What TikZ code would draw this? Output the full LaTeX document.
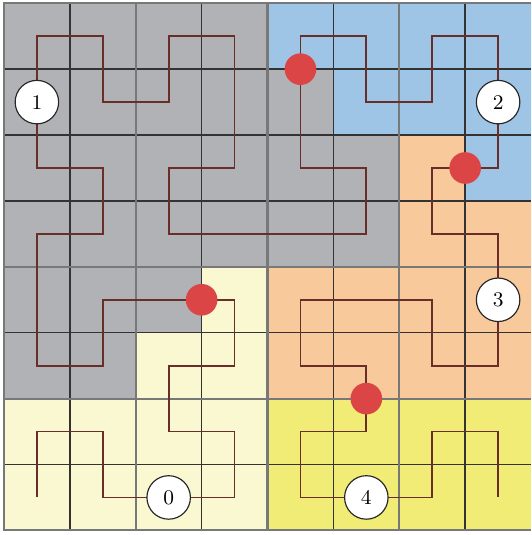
\documentclass[tikz,border=0pt]{standalone}
\usepackage{tikz}
\usetikzlibrary{positioning,calc}
\definecolor{cellgray}{HTML}{B1B2B5}
\definecolor{paleyellow}{HTML}{FAF8D0}
\definecolor{skyblue}{HTML}{9EC4E6}
\definecolor{peach}{HTML}{F7C99B}
\definecolor{lemon}{HTML}{F0EC76}
\definecolor{curvered}{HTML}{6A2E2A}
\definecolor{dotred}{HTML}{DC4545}
\definecolor{gridgray}{HTML}{787878}
\tikzset{
  thinline/.style={draw=black!80,line width=0.6pt},
  halfline/.style={draw=gridgray,line width=0.9pt},
  curve/.style={draw=curvered,line width=0.75pt},
  cut/.style={circle,fill=dotred,inner sep=0pt,minimum size=0.48cm},
  label/.style={circle,draw=black!85,fill=white,line width=0.5pt,inner sep=0pt,minimum size=0.66cm,font=\fontsize{9}{10}\selectfont}
}

\begin{document}
\begin{tikzpicture}
  \useasboundingbox (-0.06,-0.07) rectangle (8,8.05);
  \fill[paleyellow] (0,0) -- (4,0) -- (4,4) -- (3,4) -- (3,3) -- (2,3) -- (2,2) -- (0,2) -- cycle;
  \fill[cellgray] (0,2) -- (2,2) -- (2,3) -- (3,3) -- (3,4) -- (6,4) -- (6,6) -- (5,6) -- (5,7) -- (4,7) -- (4,8) -- (0,8) -- cycle;
  \fill[skyblue] (4,8) -- (8,8) -- (8,5) -- (7,5) -- (7,6) -- (5,6) -- (5,7) -- (4,7) -- cycle;
  \fill[peach] (4,2) -- (8,2) -- (8,5) -- (7,5) -- (7,6) -- (6,6) -- (6,4) -- (4,4) -- cycle;
  \fill[lemon] (4,0) rectangle (8,2);
  \foreach \k in {1,3,5,6,7} {
    \draw[thinline] (0,\k) -- (8,\k);
  }
  \foreach \k in {1,3,5,7} {
    \draw[thinline] (\k,0) -- (\k,8);
  }
  \foreach \k in {2,4} {
    \draw[halfline] (0,\k) -- (8,\k);
  }
  \foreach \k in {2,4,6} {
    \draw[halfline] (\k,0) -- (\k,8);
  }
  \draw[halfline] (8,0) -- (0,0) -- (0,8) -- (8,8);
  \draw[curve] (0.5,0.5) -- (0.5,1.5) -- (1.5,1.5) -- (1.5,0.5) -- (3.5,0.5) -- (3.5,1.5) -- (2.5,1.5)
    -- (2.5,2.5) -- (3.5,2.5) -- (3.5,3.5) -- (1.5,3.5) -- (1.5,2.5) -- (0.5,2.5) -- (0.5,4.5)
    -- (1.5,4.5) -- (1.5,5.5) -- (0.5,5.5) -- (0.5,7.5) -- (1.5,7.5) -- (1.5,6.5) -- (2.5,6.5)
    -- (2.5,7.5) -- (3.5,7.5) -- (3.5,5.5) -- (2.5,5.5) -- (2.5,4.5) -- (5.5,4.5) -- (5.5,5.5)
    -- (4.5,5.5) -- (4.5,7.5) -- (5.5,7.5) -- (5.5,6.5) -- (6.5,6.5) -- (6.5,7.5) -- (7.5,7.5)
    -- (7.5,5.5) -- (6.5,5.5) -- (6.5,4.5) -- (7.5,4.5) -- (7.5,2.5) -- (6.5,2.5) -- (6.5,3.5)
    -- (4.5,3.5) -- (4.5,2.5) -- (5.5,2.5) -- (5.5,1.5) -- (4.5,1.5) -- (4.5,0.5) -- (6.5,0.5)
    -- (6.5,1.5) -- (7.5,1.5) -- (7.5,0.5);
  \node[cut] (cutA) at (3,3.5) {};
  \node[cut] (cutB) at (4.5,7) {};
  \node[cut] (cutC) at (7,5.5) {};
  \node[cut] (cutD) at (5.5,2) {};
  \node[label] (part0) at (2.5,0.5) {0};
  \node[label] (part1) at (0.5,6.5) {1};
  \node[label] (part2) at (7.5,6.5) {2};
  \node[label] (part3) at (7.5,3.5) {3};
  \node[label] (part4) at (5.5,0.5) {4};
\end{tikzpicture}
\end{document}
